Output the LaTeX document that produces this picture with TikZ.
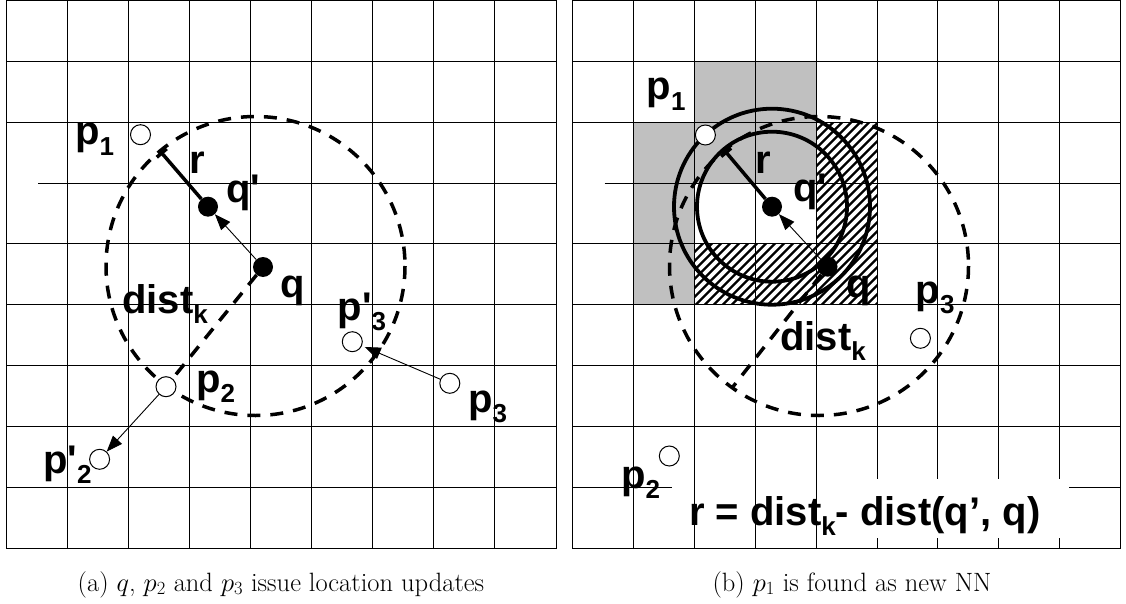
\documentclass[tikz,border=0pt]{standalone}
\usepackage{fix-cm}
\usepackage{fontspec}
\setsansfont{Liberation Sans}
\usetikzlibrary{arrows.meta}
\definecolor{cellgrey}{RGB}{192,192,192}
\newcommand\lbfont{\sffamily\bfseries\fontsize{40}{42}\selectfont}
\newcommand\sbs[1]{\raisebox{-10.5pt}{\fontsize{26}{26}\selectfont #1}}
\newcommand\apo{\textquotesingle}
\begin{document}
\begin{tikzpicture}[x=1pt,y=-1pt,
  gridline/.style={line width=1pt},
  kdashed/.style={line width=3.5pt, dash pattern=on 13pt off 10pt},
  solidring/.style={line width=3.8pt},
  opt/.style={circle, draw, line width=1pt, minimum size=20pt, inner sep=0pt, fill=white},
  dot/.style={circle, fill=black, minimum size=20pt, inner sep=0pt},
  lbl/.style={anchor=base west, inner sep=0pt, font=\lbfont},
  captext/.style={anchor=base, inner sep=0pt, font=\fontsize{26.5}{30}\selectfont},
  thinarrow/.style={line width=0.9pt, -{Triangle[length=16pt,width=12pt]}},
  rseg/.style={line width=3.5pt, -{Bar[width=13pt]}},
  hatchline/.style={line width=2.2pt}
  ]
\useasboundingbox (0,0) rectangle (1126,604);
\fill[white] (0,0) rectangle (1126,604);

% ---------------- left panel grid ----------------
\begin{scope}[xshift=6pt]
  \draw[gridline] (0,0.5) rectangle (550,548.3);
  \foreach \i in {1,...,8} \draw[gridline] (\i*61.11,0.5) -- (\i*61.11,548.3);
  \foreach \j in {1,2,4,5,6,7,8} \draw[gridline] (0,0.5+\j*60.87) -- (550,0.5+\j*60.87);
  \draw[gridline] (32,0.5+3*60.87) -- (550,0.5+3*60.87);
\end{scope}

% ---------------- right panel cells and grid ----------------
\begin{scope}[xshift=572.5pt]
  \fill[cellgrey] (1*60.91,0.5+2*60.87) rectangle (2*60.91,0.5+5*60.87);
  \fill[cellgrey] (2*60.91,0.5+1*60.87) rectangle (4*60.91,0.5+3*60.87);
  \begin{scope}
    \clip (4*60.91,0.5+2*60.87) rectangle (5*60.91,0.5+5*60.87)
          (2*60.91,0.5+4*60.87) rectangle (4*60.91,0.5+5*60.87);
    \foreach \k in {-10,...,36} \draw[hatchline] (\k*9,320) -- (\k*9+220,100);
  \end{scope}
  \draw[gridline] (0,0.5) rectangle (548.2,548.3);
  \foreach \i in {1,...,8} \draw[gridline] (\i*60.91,0.5) -- (\i*60.91,548.3);
  \foreach \j in {1,2,4,5,6,7,8} \draw[gridline] (0,0.5+\j*60.87) -- (548.2,0.5+\j*60.87);
  \draw[gridline] (32,0.5+3*60.87) -- (548.2,0.5+3*60.87);
  \fill[white] (99.5,479) rectangle (496.5,538);
  \foreach \i in {2,3,4} \draw[gridline] (\i*60.91,479) -- (\i*60.91,538);
\end{scope}

% ---------------- left panel content ----------------
\draw[kdashed] (255.5,266) circle[radius=149.5];
\node[dot] (qL) at (263,267) {};
\node[dot] (qpL) at (208,206.7) {};
\node[opt] (p1L) at (140.5,134.7) {};
\node[opt] (p2L) at (166,386.7) {};
\node[opt] (p2pL) at (99.6,459.3) {};
\node[opt] (p3L) at (449.8,383.3) {};
\node[opt] (p3pL) at (352.3,341.7) {};
\coordinate (rEL) at (160.6,151.7);
\draw[kdashed] (qL) -- (p2L);
\draw[rseg] (qpL) -- (rEL);
\draw[thinarrow] (qL) -- (qpL);
\draw[thinarrow] (p2L) -- (p2pL);
\draw[thinarrow, shorten >=3pt] (p3L) -- (p3pL);
\node[lbl] (lp1L) at (75,145) {p\sbs{1}};
\node[lbl] (lrL) at (189,174) {r};
\node[lbl] (lqpL) at (226,203) {q\apo};
\node[lbl] (lqL) at (280,297) {q};
\node[lbl] (ldL) at (122,313) {dist\sbs{k}};
\node[lbl] (lp3pL) at (337.5,320) {p\apo\sbs{3}};
\node[lbl] (lp2L) at (196,392) {p\sbs{2}};
\node[lbl] (lp3L) at (468,412) {p\sbs{3}};
\node[lbl] (lp2pL) at (43,473) {p\apo\sbs{2}};

% ---------------- right panel content ----------------
\draw[kdashed] (819,266) circle[radius=149.5];
\node[dot] (qR) at (827.5,266.7) {};
\node[dot] (qpR) at (772,206.7) {};
\coordinate (eR) at (733,386.7);
\coordinate (rER) at (725,151);
\draw[solidring] (qpR) circle[radius=98];
\draw[solidring] (qpR) circle[radius=75];
\draw[kdashed] (qR) -- (eR);
\draw[rseg] (qpR) -- (rER);
\draw[thinarrow] (qR) -- (qpR);
\node[opt] (p1R) at (705.4,135) {};
\node[opt] (p3R) at (920.4,338.3) {};
\node[opt] (p2R) at (669.3,456) {};
\node[lbl] (lp1R) at (646.6,100) {p\sbs{1}};
\node[lbl] (lrR) at (755.5,174) {r};
\node[lbl] (lqpR) at (793,201) {q\apo};
\node[lbl] (lqR) at (846.5,297) {q};
\node[lbl] (lp3R) at (915.6,303) {p\sbs{3}};
\node[lbl] (ldR) at (780,350) {dist\sbs{k}};
\node[lbl] (lp2R) at (621,488) {p\sbs{2}};
\node[lbl] (formula) at (689,525) {r = dist\sbs{k}- dist(q’, q)};

% ---------------- captions ----------------
\node[captext] (capa) at (281,591) {(a) $q$, $p_2$ and $p_3$ issue location updates};
\node[captext] (capb) at (852,591) {(b) $p_1$ is found as new NN};
\end{tikzpicture}
\end{document}
